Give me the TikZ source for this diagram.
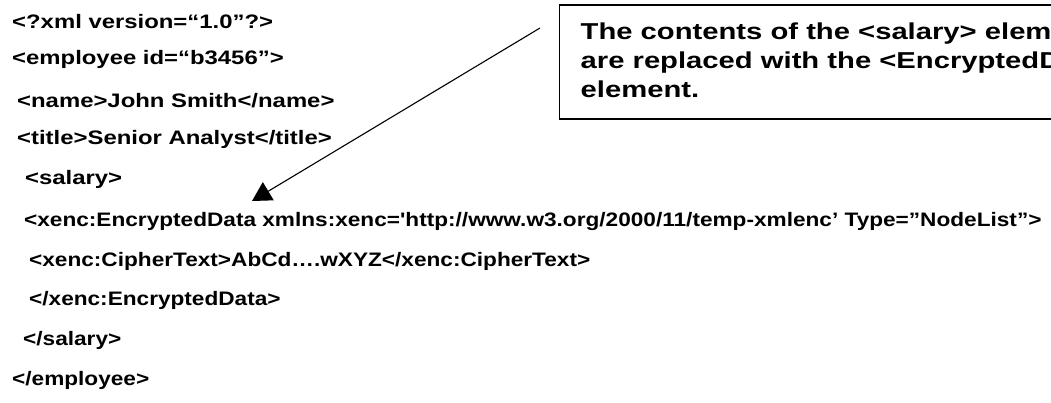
\documentclass[tikz,border=0pt]{standalone}
\usepackage{graphicx}
\usepackage{fontspec}
\newfontfamily\codefont{Liberation Sans}[Ligatures=TeXOff]
\usetikzlibrary{arrows.meta}
\newcommand\upstretch[1]{\scalebox{1.225}[1]{#1}}
\newcommand\lowstretch[1]{\scalebox{1.16}[1]{#1}}
\newcommand\notestretch[1]{\scalebox{1.27}[1]{#1}}
\tikzset{
  codeline/.style={anchor=base west, inner sep=0pt, font=\codefont\bfseries\fontsize{19.5}{24}\selectfont},
  boxtext/.style={anchor=base west, inner sep=0pt, font=\codefont\bfseries\fontsize{23}{28}\selectfont},
  notebox/.style={draw=black, line width=1.3pt, anchor=north west, inner sep=0pt, minimum width=540pt, minimum height=114pt},
  pointer/.style={draw=black, line width=1.1pt, -{Triangle[length=19pt,width=21pt]}}
}
\begin{document}
\begin{tikzpicture}[x=1pt,y=-1pt]
\useasboundingbox (0,0) rectangle (1051,403);
\clip (0,0) rectangle (1051,403);
% code lines
\node[codeline] (l1) at (12,29) {\upstretch{<?xml version=“1.0”?>}};
\node[codeline] (l2) at (12,65) {\upstretch{<employee id=“b3456”>}};
\node[codeline] (l3) at (17,108) {\upstretch{<name>John Smith</name>}};
\node[codeline] (l4) at (17,145) {\upstretch{<title>Senior Analyst</title>}};
\node[codeline] (l5) at (25,185) {\upstretch{<salary>}};
\node[codeline] (l6) at (24,227) {\lowstretch{<xenc:EncryptedData xmlns:xenc='http://www.w3.org/2000/11/temp-xmlenc’ Type=”NodeList”>}};
\node[codeline] (l7) at (29,266) {\lowstretch{<xenc:CipherText>AbCd….wXYZ</xenc:CipherText>}};
\node[codeline] (l8) at (29,305) {\lowstretch{</xenc:EncryptedData>}};
\node[codeline] (l9) at (23,345) {\lowstretch{</salary>}};
\node[codeline] (l10) at (12,385) {\lowstretch{</employee>}};
% note box
\node[notebox] (box) at (558.5,4.5) {};
\node[boxtext] (b1) at (580.5,40) {\notestretch{The contents of the <salary> element}};
\node[boxtext] (b2) at (580.5,69) {\notestretch{are replaced with the <EncryptedData>}};
\node[boxtext] (b3) at (580.5,98) {\notestretch{element.}};
% arrow
\coordinate (arrowstart) at (540,28);
\coordinate (arrowtip) at (252,201);
\draw[pointer] (arrowstart) -- (arrowtip);
\end{tikzpicture}
\end{document}
